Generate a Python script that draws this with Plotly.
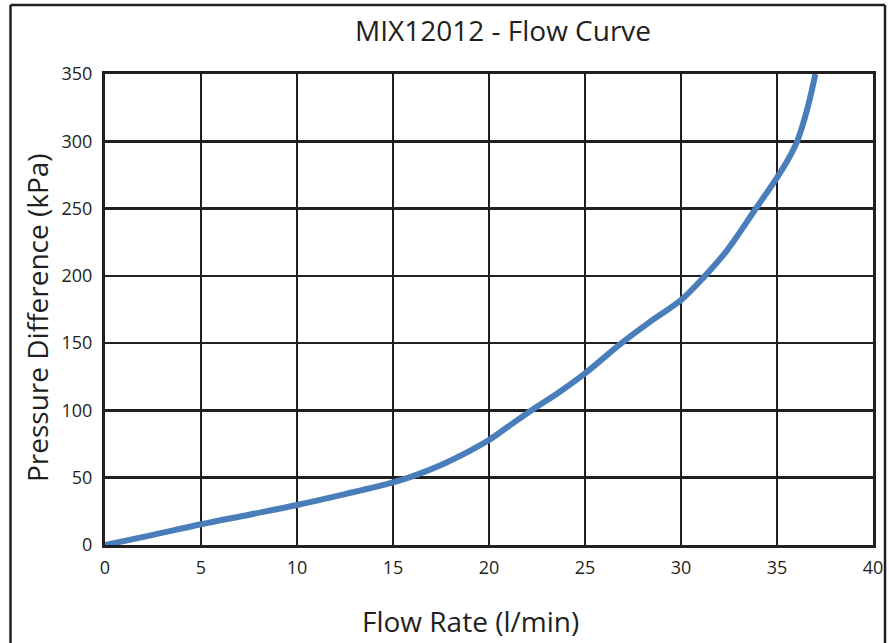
import plotly.graph_objects as go

flow_rate = [0, 2.5, 5, 7.5, 10, 12.5, 15, 16, 17.5, 19, 20, 21, 22.2, 23.5, 25, 26.9,
             28.4, 30, 31.25, 32.4, 33.9, 35.0, 35.6, 36.05, 36.4, 36.7, 37.0]
pressure = [0, 7.5, 15.4, 22.5, 29.7, 37.8, 46.5, 51, 59.5, 70, 78, 88, 100, 112, 127.5, 150,
            166, 182, 200, 219, 250, 273, 287, 300, 315, 331, 350]

x_ticks = [0, 5, 10, 15, 20, 25, 30, 35, 40]
y_ticks = [0, 50, 100, 150, 200, 250, 300, 350]

title_text = "MIX12012 - Flow Curve"
x_title = "Flow Rate (l/min)"
y_title = "Pressure Difference (kPa)"

FONT = "Open Sans, Liberation Sans, sans-serif"
INK = "#231f20"

W, H = 889, 643
# plot area in page pixels: x 105..873, y 74..545
L, R, T, B = 105, W - 873, 74, H - 545
pw, ph = W - L - R, H - T - B

def px_x(p):
    return (p - L) / pw

def px_y(p):
    return (H - B - p) / ph

fig = go.Figure()
fig.add_trace(go.Scatter(
    x=flow_rate, y=pressure, mode="lines",
    line=dict(color="#4a7ebb", width=6, shape="spline", smoothing=1.0),
    hoverinfo="skip", showlegend=False, cliponaxis=False,
))

axis_common = dict(
    showgrid=True, gridcolor=INK, gridwidth=2.5,
    showline=True, linecolor=INK, linewidth=3, mirror=True,
    zeroline=False, ticks="", tickfont=dict(family=FONT, size=18, color=INK),
    fixedrange=True,
)

fig.update_xaxes(range=[0, 40], tickvals=x_ticks, ticktext=[str(v) for v in x_ticks],
                 ticklabelstandoff=4, **axis_common)
fig.update_yaxes(range=[0, 350], tickvals=y_ticks, ticktext=[str(v) for v in y_ticks],
                 ticklabelstandoff=6, **axis_common)

fig.update_layout(
    width=W, height=H,
    margin=dict(l=L, r=R, t=T, b=B, autoexpand=False),
    paper_bgcolor="white", plot_bgcolor="white",
    showlegend=False,
    annotations=[
        dict(text=title_text, x=px_x(503), y=px_y(30), xref="paper", yref="paper",
             showarrow=False, xanchor="center", yanchor="middle",
             font=dict(family=FONT, size=28, color=INK)),
        dict(text=x_title, x=px_x(470), y=px_y(621), xref="paper", yref="paper",
             showarrow=False, xanchor="center", yanchor="middle",
             font=dict(family=FONT, size=28, color=INK)),
        dict(text=y_title, x=px_x(37), y=px_y(318), xref="paper", yref="paper",
             showarrow=False, xanchor="center", yanchor="middle", textangle=-90,
             font=dict(family=FONT, size=28, color=INK)),
    ],
    shapes=[
        dict(type="line", xref="paper", yref="paper",
             x0=px_x(10.5), x1=px_x(885), y0=px_y(5), y1=px_y(5),
             line=dict(color=INK, width=2.5), layer="above"),
        dict(type="line", xref="paper", yref="paper",
             x0=px_x(10.5), x1=px_x(10.5), y0=px_y(5), y1=px_y(643),
             line=dict(color=INK, width=2.5), layer="above"),
        dict(type="line", xref="paper", yref="paper",
             x0=px_x(885), x1=px_x(885), y0=px_y(5), y1=px_y(643),
             line=dict(color=INK, width=2.5), layer="above"),
    ],
)

fig.write_html(
    "out.html",
    config={"displayModeBar": False, "staticPlot": True},
    post_script="document.body.style.margin='0';document.body.style.overflow='hidden';",
)
